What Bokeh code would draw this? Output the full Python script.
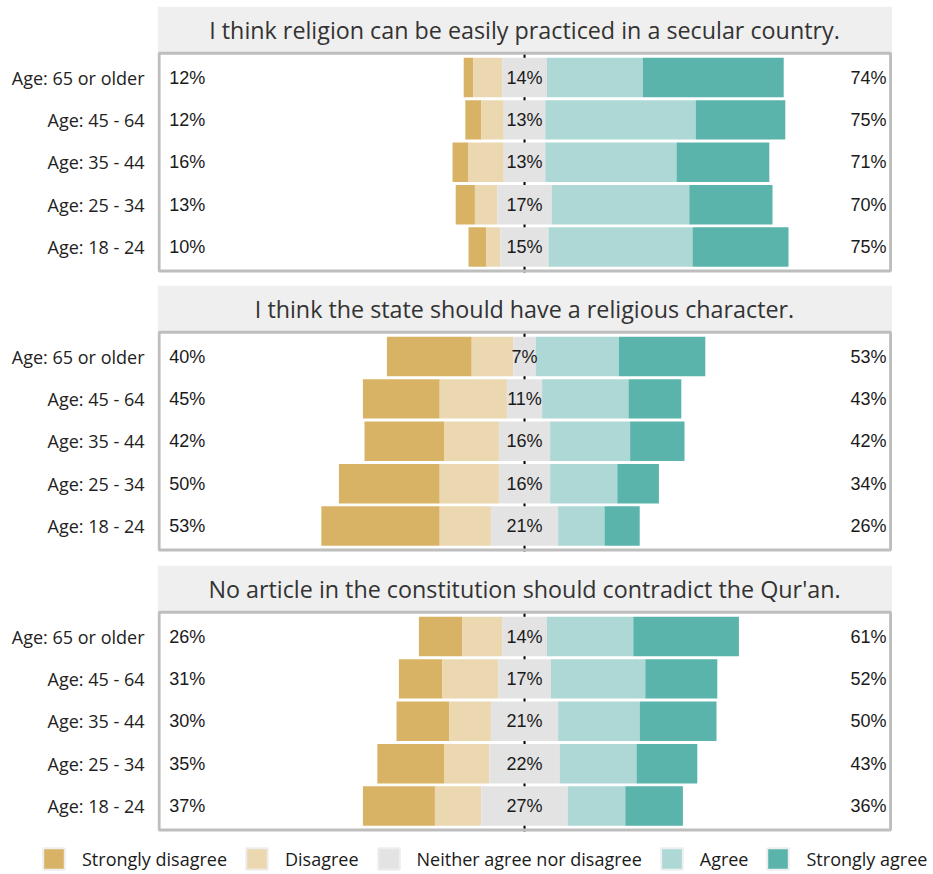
import numpy as np
from bokeh.plotting import figure
from bokeh.models import Range1d, FixedTicker, Legend, LegendItem
from bokeh.layouts import column
from bokeh.embed import file_html
from bokeh.resources import INLINE
from bokeh.core.properties import value

# ---------------- data ----------------
age_groups = ["Age: 65 or older", "Age: 45 - 64", "Age: 35 - 44", "Age: 25 - 34", "Age: 18 - 24"]
responses = ["Strongly disagree", "Disagree", "Neither agree nor disagree", "Agree", "Strongly agree"]
colors = ["#D8B365", "#EBD8B0", "#E3E3E3", "#ADD8D5", "#5AB4AC"]

titles = [
    "I think religion can be easily practiced in a secular country.",
    "I think the state should have a religious character.",
    "No article in the constitution should contradict the Qur'an.",
]

q1_strongly_disagree = [3, 5, 5, 6, 5.5]
q1_disagree = [9, 7, 11, 7, 4.5]
q1_neutral = [14, 13, 13, 17, 15]
q1_agree = [30, 47, 41, 43, 45]
q1_strongly_agree = [44, 28, 29, 26, 30]
q1_low_pct = [12, 12, 16, 13, 10]
q1_mid_pct = [14, 13, 13, 17, 15]
q1_high_pct = [74, 75, 71, 70, 75]

q2_strongly_disagree = [26.5, 24, 25, 31.5, 37]
q2_disagree = [13, 21, 17, 18.5, 16]
q2_neutral = [7, 11, 16, 16, 21]
q2_agree = [26, 27, 25, 21, 14.5]
q2_strongly_agree = [27, 16.5, 17, 13, 11]
q2_low_pct = [40, 45, 42, 50, 53]
q2_mid_pct = [7, 11, 16, 16, 21]
q2_high_pct = [53, 43, 42, 34, 26]

q3_strongly_disagree = [13.5, 13.5, 16.5, 21, 22.5]
q3_disagree = [12.5, 17.5, 13, 14, 14.5]
q3_neutral = [14, 16.5, 21, 22, 27]
q3_agree = [27, 29.5, 25.5, 24, 18]
q3_strongly_agree = [33, 22.5, 24, 19, 18]
q3_low_pct = [26, 31, 30, 35, 37]
q3_mid_pct = [14, 17, 21, 22, 27]
q3_high_pct = [61, 52, 50, 43, 36]

# ---------------- layout constants ----------------
X0, X1 = -114.7, 115.0
Y0, Y1 = 0.353, 6.675
BOX_TOP = 5.6
TXT = "#1a1a1a"
LEFT_BORDER = 157


def make_panel(title, sd, d, n, a, sa, low, mid, high, bottom_border):
    ys = np.arange(len(age_groups), 0, -1).astype(float)
    sd, d, n, a, sa = (np.array(v, dtype=float) for v in (sd, d, n, a, sa))

    p = figure(width=LEFT_BORDER + 735, height=6 + 268 + bottom_border,
               x_range=Range1d(X0, X1), y_range=Range1d(Y0, Y1),
               output_backend="svg", toolbar_location=None,
               min_border_left=LEFT_BORDER, min_border_right=0, min_border_top=6,
               min_border_bottom=bottom_border)
    p.outline_line_color = None
    p.xgrid.grid_line_color = None
    p.ygrid.grid_line_color = None
    p.xaxis.visible = False
    p.background_fill_color = "white"
    p.border_fill_color = "white"

    # strip with title
    p.quad(left=X0, right=X1, bottom=BOX_TOP, top=Y1, fill_color="#EFEFEF", line_color=None)
    p.text(x=[0], y=[6.132], text=[title], text_align="center", text_baseline="middle",
           text_font=value("Open Sans"), text_font_size="23.3px", text_color="#333333")

    # centre line
    p.segment(x0=0, y0=0.4, x1=0, y1=BOX_TOP, line_color="black", line_width=2)

    # stacked diverging bars
    edges = [-(n / 2 + d + sd), -(n / 2 + d), -(n / 2), n / 2, n / 2 + a, n / 2 + a + sa]
    for i, c in enumerate(colors):
        p.hbar(y=ys, left=edges[i], right=edges[i + 1], height=0.93, fill_color=c, line_color=None)

    # percentage labels
    font = value("Liberation Sans")
    p.text(x=[-111] * len(ys), y=ys, text=[f"{v}%" for v in low], text_align="left",
           text_baseline="middle", text_font=font, text_font_size="18px", text_color=TXT)
    p.text(x=[0] * len(ys), y=ys, text=[f"{v}%" for v in mid], text_align="center",
           text_baseline="middle", text_font=font, text_font_size="18px", text_color=TXT)
    p.text(x=[113.1] * len(ys), y=ys, text=[f"{v}%" for v in high], text_align="right",
           text_baseline="middle", text_font=font, text_font_size="18px", text_color=TXT)

    # panel border
    p.quad(left=-114.2, right=114.4, bottom=0.435, top=5.575, fill_color=None,
           line_color="#BEBEBE", line_width=3)

    # y axis
    p.yaxis.ticker = FixedTicker(ticks=list(ys))
    p.yaxis.major_label_overrides = {float(y): lab for y, lab in zip(ys, age_groups)}
    p.yaxis.axis_line_color = None
    p.yaxis.major_tick_line_color = None
    p.yaxis.minor_tick_line_color = None
    p.yaxis.major_label_standoff = 7
    p.yaxis.major_label_text_font = "Open Sans"
    p.yaxis.major_label_text_font_size = "18px"
    p.yaxis.major_label_text_color = "#222222"
    return p


p1 = make_panel(titles[0], q1_strongly_disagree, q1_disagree, q1_neutral, q1_agree,
                q1_strongly_agree, q1_low_pct, q1_mid_pct, q1_high_pct, 5)
p2 = make_panel(titles[1], q2_strongly_disagree, q2_disagree, q2_neutral, q2_agree,
                q2_strongly_agree, q2_low_pct, q2_mid_pct, q2_high_pct, 6)
p3 = make_panel(titles[2], q3_strongly_disagree, q3_disagree, q3_neutral, q3_agree,
                q3_strongly_agree, q3_low_pct, q3_mid_pct, q3_high_pct, 5)

# legend figure (separate root so its frame spans the full width)
leg = figure(width=932, height=35, output_backend="svg", toolbar_location=None,
             min_border_left=0, min_border_right=0, min_border_top=0, min_border_bottom=0,
             x_axis_location=None, y_axis_location=None,
             x_range=Range1d(0, 1), y_range=Range1d(0, 1))
leg.outline_line_color = None
leg.xgrid.grid_line_color = None
leg.ygrid.grid_line_color = None
items = []
for r, c in zip(responses, colors):
    rend = leg.rect(x=[-10], y=[-10], width=1, height=1, fill_color=c,
                    line_color="#EEEEEE", line_width=2)
    items.append(LegendItem(label=r, renderers=[rend]))
legend = Legend(items=items, orientation="horizontal", location=(40, 1),
                glyph_width=27, glyph_height=27, label_standoff=15, spacing=16,
                padding=0, margin=0, border_line_color=None, background_fill_alpha=0,
                label_text_font="Open Sans", label_text_font_size="18px",
                label_text_color=TXT, label_height=27)
leg.add_layout(legend, "center")

page = column(p1, p2, p3)
open("out.html", "w").write(file_html([page, leg], INLINE))
